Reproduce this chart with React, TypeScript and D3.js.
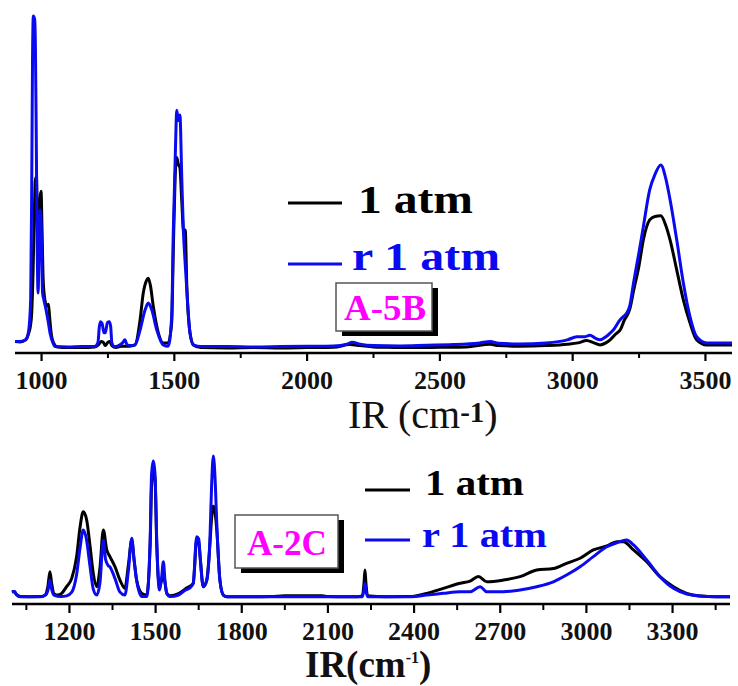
import React from "react";
import * as d3 from "d3";

// ---------- DATA ----------
// Top panel (A-5B): [wavenumber cm-1, intensity a.u.]
const topAtm: [number, number][] = [
  [900,3.4],[920,3.3],[940,3.9],[950,5.5],[958,8],[963,12],[968,24],[973,42],[977,52],[981,52],[984,38],[988,29],[993,45],[998,48],[1002,36],[1006,22],[1012,16],[1020,14],[1026,14.5],[1030,11],[1036,6],[1045,3],[1060,1.8],[1100,1.6],[1150,1.6],[1200,1.8],[1215,2.5],[1225,3.4],[1232,3.2],[1240,2.2],[1250,3.2],[1257,3.4],[1265,2.2],[1280,1.6],[1300,2],[1330,2],[1352,2.4],[1371,9.8],[1383,17.8],[1395,21.5],[1402,22.2],[1410,20],[1421,13.7],[1440,5.9],[1458,3],[1477,3],[1490,9],[1496,30],[1503,52],[1509,58],[1515,56],[1521,55],[1528,45],[1535,36],[1541,36.5],[1547,20],[1559,6],[1572,2.4],[1600,1.6],[1700,1.5],[1800,1.6],[1900,1.5],[2000,1.6],[2100,1.7],[2160,2.5],[2200,2.2],[2250,1.8],[2300,1.7],[2400,1.6],[2500,1.7],[2600,1.8],[2690,2.6],[2720,2.2],[2800,2],[2900,2.2],[2980,2.6],[3020,3],[3053,3.7],[3080,3],[3103,2.4],[3125,3],[3141,3.9],[3160,5.5],[3180,7],[3195,9.8],[3215,13],[3230,18.7],[3250,26],[3266,33.5],[3290,39.5],[3310,40.5],[3332,40.7],[3350,38],[3367,33.5],[3392,24.6],[3417,15.7],[3442,8.9],[3467,3.9],[3505,2.4],[3550,2.4],[3600,2.4]
];
const topRAtm: [number, number][] = [
  [900,3.4],[920,3.4],[940,3.9],[950,5.9],[959,15.7],[963,50],[966,87],[969,100],[974,99],[977,90],[980,65],[983,35.6],[987,17.8],[990,27.6],[995,42.4],[999,36.5],[1004,17.8],[1009,15.7],[1017,12.8],[1024,9.8],[1032,5.9],[1043,3],[1051,1.9],[1100,1.8],[1150,1.9],[1200,1.9],[1212,3],[1218,8],[1222,9.3],[1228,8.8],[1235,6],[1240,6],[1248,9],[1255,9.3],[1260,8],[1265,3],[1275,1.9],[1290,2.2],[1305,3],[1314,3.9],[1322,2.4],[1340,2.2],[1352,2.4],[1371,6.8],[1390,12.8],[1402,14.8],[1415,12.8],[1434,6.8],[1458,2.4],[1477,2],[1490,10.7],[1496,35.6],[1505,63],[1509,72],[1515,69],[1521,70.6],[1528,52],[1534,36.5],[1540,27.6],[1547,18.7],[1559,5.9],[1572,2.4],[1600,1.9],[1700,1.9],[1800,1.8],[1900,1.9],[2000,2],[2100,2.1],[2150,2.6],[2170,3.2],[2200,2.6],[2250,2.2],[2350,2.1],[2450,2.3],[2550,2.5],[2650,3],[2690,3.4],[2720,2.9],[2800,2.7],[2900,3],[2980,3.9],[3016,4.8],[3045,4.8],[3065,5.3],[3085,4.4],[3103,3.9],[3125,4.8],[3141,5.9],[3153,6.8],[3178,9.8],[3191,10.8],[3205,12],[3215,14],[3229,20.7],[3250,30],[3266,37.4],[3290,48.4],[3310,53],[3332,55.8],[3350,52],[3367,45.4],[3392,33.5],[3417,20.7],[3442,10.7],[3467,4.8],[3505,3],[3550,3],[3600,3]
];

// Bottom panel (A-2C)
const bottomAtm: [number, number][] = [
  [1000,8],[1008,8.5],[1015,6.5],[1030,5],[1060,4.9],[1100,5],[1115,6],[1125,12],[1132,21.8],[1138,14],[1146,7],[1160,6],[1173,7.2],[1190,11.7],[1208,17.3],[1225,32],[1237,52],[1248,62.4],[1260,56.8],[1272,38.7],[1283,20.7],[1295,11.7],[1306,24],[1318,50],[1330,36.5],[1341,32],[1359,25],[1376,16.2],[1393,10.6],[1405,26],[1417,43],[1425,30],[1434,16],[1452,7.2],[1469,6],[1481,40],[1486,80],[1492,90],[1498,84],[1504,40],[1513,12],[1521,16],[1527,21],[1533,14],[1539,7.2],[1550,5.5],[1580,7],[1608,10.8],[1631,14],[1643,43],[1650,42],[1655,32],[1666,11.7],[1678,16],[1689,40],[1695,58],[1701,66],[1707,62],[1713,50],[1724,16],[1736,6],[1748,4.9],[1800,4.9],[1900,5],[1950,5.6],[2000,5.6],[2080,5.6],[2100,5],[2200,4.9],[2220,5.5],[2226,15],[2229,23],[2232,15],[2238,5.5],[2300,4.9],[2386,5],[2444,7.2],[2502,10.6],[2560,14],[2595,15.5],[2624,18.5],[2653,15],[2711,16.2],[2769,18.5],[2827,23],[2885,24],[2931,27.5],[2978,30.9],[3024,36.5],[3071,39.2],[3106,42.1],[3129,42.1],[3164,36.5],[3210,28.6],[3256,18.5],[3303,11.7],[3349,7.2],[3396,5.4],[3450,4.9],[3500,4.9]
];
const bottomRAtm: [number, number][] = [
  [1000,8.3],[1008,8.5],[1015,6.5],[1030,4.9],[1100,4.9],[1117,6],[1126,10],[1132,16.2],[1138,10],[1146,6],[1170,5],[1190,5.5],[1208,8],[1225,20],[1237,38],[1248,50],[1258,45],[1272,25],[1283,10],[1295,6],[1306,14],[1318,43],[1326,30],[1335,26],[1341,25],[1359,17],[1376,8],[1393,6],[1405,22],[1417,44.4],[1425,30],[1434,16],[1452,5],[1469,5],[1481,43],[1486,88],[1492,96.8],[1498,88],[1504,43],[1513,9.5],[1521,18],[1527,28.6],[1533,15],[1539,7.2],[1550,5],[1580,6],[1600,9],[1620,11],[1631,14],[1643,45.5],[1650,44],[1655,32],[1666,11.7],[1678,16],[1689,43],[1695,80],[1701,100],[1707,85],[1713,54.5],[1724,16],[1736,6],[1748,4.9],[2000,4.9],[2220,4.9],[2226,10],[2229,14],[2232,10],[2238,4.9],[2386,4.9],[2444,6],[2502,7.2],[2560,8.3],[2595,8.3],[2630,11.7],[2653,8.3],[2711,8.3],[2769,9.5],[2827,11.7],[2885,15],[2931,19.6],[2978,25.2],[3024,32],[3071,38.7],[3106,41.4],[3140,43.2],[3164,39.9],[3210,29.7],[3256,18.5],[3303,10.6],[3349,6.8],[3396,5.4],[3450,4.9],[3500,4.9]
];

const topMajorTicks = [1000, 1500, 2000, 2500, 3000, 3500];
const topMinorTicks = [1250, 1750, 2250, 2750, 3250];
const bottomMajorTicks = [1200, 1500, 1800, 2100, 2400, 2700, 3000, 3300];
const bottomMinorTicks = [1050, 1350, 1650, 1950, 2250, 2550, 2850, 3150, 3450];

const seriesLabels = ["1 atm", "r 1 atm"];
const panelLabels = ["A-5B", "A-2C"];

// ---------- STYLE ----------
const FONT = '"Liberation Serif"';
const BLACK = "#000000";
const BLUE = "#0a0af0";
const MAGENTA = "#ff00ff";

type PanelProps = {
  data: [number, number][][];
  xDomain: [number, number];
  xRange: [number, number];
  axisY: number;
  topY: number;
  major: number[];
  minor: number[];
  majorLen: number;
  minorLen: number;
  labelBaseline: number;
};

function Panel(p: PanelProps) {
  const x = d3.scaleLinear().domain(p.xDomain).range(p.xRange);
  const y = d3.scaleLinear().domain([0, 100]).range([p.axisY, p.topY]);
  const line = d3
    .line<[number, number]>()
    .x((d) => x(d[0]))
    .y((d) => y(d[1]))
    .curve(d3.curveMonotoneX);
  const colors = [BLACK, BLUE];
  return (
    <g>
      {p.data.map((s, i) => (
        <path
          key={i}
          d={line(s) || ""}
          fill="none"
          stroke={colors[i]}
          strokeWidth={3}
          strokeLinejoin="round"
        />
      ))}
      <line x1={p.xRange[0]} x2={p.xRange[1]} y1={p.axisY} y2={p.axisY} stroke="#000" strokeWidth={2.6} />
      {p.major.map((t) => (
        <line key={"M" + t} x1={x(t)} x2={x(t)} y1={p.axisY} y2={p.axisY + p.majorLen} stroke="#000" strokeWidth={2.2} />
      ))}
      {p.minor.map((t) => (
        <line key={"m" + t} x1={x(t)} x2={x(t)} y1={p.axisY} y2={p.axisY + p.minorLen} stroke="#000" strokeWidth={2} />
      ))}
      {p.major.map((t) => (
        <text
          key={"L" + t}
          x={x(t)}
          y={p.labelBaseline}
          textAnchor="middle"
          style={{ fontFamily: FONT, fontWeight: "bold", fontSize: 26 }}
          fill="#111"
        >
          {t}
        </text>
      ))}
    </g>
  );
}

function LabelBox({ x, y, w, h, text, tx, ty, tw }: any) {
  return (
    <g>
      <rect x={x + 6} y={y + 5} width={w} height={h} fill="#000" />
      <rect x={x} y={y} width={w} height={h} fill="#fff" stroke="#555" strokeWidth={1.5} />
      <text
        x={tx}
        y={ty}
        style={{ fontFamily: FONT, fontWeight: "bold", fontSize: 35 }}
        fill={MAGENTA}
        textLength={tw}
        lengthAdjust="spacingAndGlyphs"
      >
        {text}
      </text>
    </g>
  );
}

function Legend({ lx1, lx2, items }: any) {
  return (
    <g>
      {items.map((it: any, i: number) => (
        <g key={i}>
          <line x1={lx1} x2={lx2} y1={it.ly} y2={it.ly} stroke={it.color} strokeWidth={3} />
          <text
            x={it.tx}
            y={it.ty}
            style={{ fontFamily: FONT, fontWeight: "bold", fontSize: it.fs }}
            fill={it.color}
            textLength={it.tw}
            lengthAdjust="spacingAndGlyphs"
          >
            {it.text}
          </text>
        </g>
      ))}
    </g>
  );
}

export default function App() {
  return (
    <svg
      width={738}
      height={686}
      style={{ position: "absolute", left: 0, top: 0, background: "#fff" }}
    >
      <rect x={0} y={0} width={738} height={686} fill="#fff" />
      {/* Top panel */}
      <Panel
        data={[topAtm, topRAtm]}
        xDomain={[900, 3600]}
        xRange={[15, 732]}
        axisY={353}
        topY={16}
        major={topMajorTicks}
        minor={topMinorTicks}
        majorLen={8}
        minorLen={5}
        labelBaseline={389}
      />
      <Legend
        lx1={288}
        lx2={342}
        items={[
          { ly: 203, tx: 358, ty: 213, tw: 115, fs: 40, color: BLACK, text: seriesLabels[0] },
          { ly: 264, tx: 352, ty: 270, tw: 148, fs: 40, color: BLUE, text: seriesLabels[1] },
        ]}
      />
      <LabelBox x={336} y={283} w={96} h={48} text={panelLabels[0]} tx={344} ty={320} tw={82} />
      <text x={348} y={428} style={{ fontFamily: FONT, fontSize: 40 }} fill="#111">
        IR (cm
        <tspan style={{ fontSize: 29, fontWeight: "bold" }} dy={-6}>-1</tspan>
        <tspan dy={6}>)</tspan>
      </text>

      {/* Bottom panel */}
      <Panel
        data={[bottomAtm, bottomRAtm]}
        xDomain={[1000, 3500]}
        xRange={[12, 730]}
        axisY={604}
        topY={456}
        major={bottomMajorTicks}
        minor={bottomMinorTicks}
        majorLen={9}
        minorLen={6}
        labelBaseline={640}
      />
      <Legend
        lx1={365}
        lx2={410}
        items={[
          { ly: 490, tx: 425, ty: 495, tw: 99, fs: 35, color: BLACK, text: seriesLabels[0] },
          { ly: 540, tx: 422, ty: 547, tw: 125, fs: 35, color: BLUE, text: seriesLabels[1] },
        ]}
      />
      <LabelBox x={235} y={515} w={103} h={53} text={panelLabels[1]} tx={247} ty={555} tw={80} />
      <text x={305} y={677} style={{ fontFamily: FONT, fontWeight: "bold", fontSize: 37 }} fill="#111">
        IR(cm
        <tspan style={{ fontSize: 16 }} dy={-14}>-1</tspan>
        <tspan dy={14}>)</tspan>
      </text>
    </svg>
  );
}
